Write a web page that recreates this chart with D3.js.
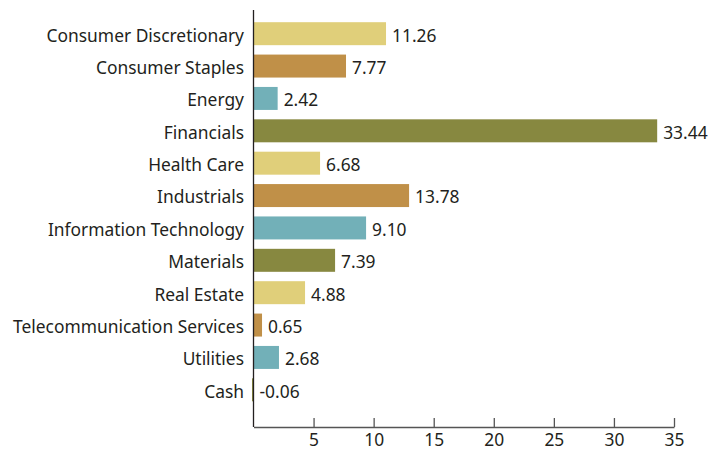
<!DOCTYPE html>
<html>
<head>
<meta charset="utf-8">
<script src="https://cdn.jsdelivr.net/npm/d3@7"></script>
<style>
  body { margin: 0; background: #fff; }
  text { font-family: "Noto Sans", sans-serif; fill: #231f20; }
</style>
</head>
<body>
<div id="chart"></div>
<script>
// sector weights (%), as printed on the bars
var sectors = ["Consumer Discretionary", "Consumer Staples", "Energy", "Financials",
  "Health Care", "Industrials", "Information Technology", "Materials",
  "Real Estate", "Telecommunication Services", "Utilities", "Cash"];
var weights = [11.26, 7.77, 2.42, 33.44, 6.68, 13.78, 9.10, 7.39, 4.88, 0.65, 2.68, -0.06];
// bar lengths as drawn in the picture (they don't quite match the labels)
var barLengths = [11.03, 7.70, 2.01, 33.6, 5.54, 12.95, 9.37, 6.79, 4.29, 0.71, 2.12, -0.06];
var tickValues = [5, 10, 15, 20, 25, 30, 35];
var palette = ["#e0cf7a", "#c09048", "#72b0b8", "#878840"];

var data = sectors.map(function(s, i) {
  return {name: s, label: weights[i], value: barLengths[i]};
});

var width = 723, height = 451;
var margin = {top: 10, right: 49, bottom: 24, left: 253.5};
var w = width - margin.left - margin.right,
    h = height - margin.top - margin.bottom;

var svg = d3.select("#chart").append("svg")
  .attr("width", width)
  .attr("height", height)
  .append("g")
  .attr("transform", "translate(" + margin.left + "," + margin.top + ")");

var x = d3.scaleLinear().domain([0, 35]).range([0, w]);

var y = d3.scaleBand()
  .domain(sectors)
  .range([7.5, 396])
  .paddingInner(0.29)
  .paddingOuter(0.145);

// bars
svg.selectAll("rect.bar")
  .data(data)
  .enter().append("rect")
  .attr("class", "bar")
  .attr("x", function(d) { return d.value < 0 ? x(0) - 1.5 : x(0); })
  .attr("y", function(d) { return y(d.name); })
  .attr("width", function(d) { return Math.max(1.5, Math.abs(x(d.value) - x(0))); })
  .attr("height", y.bandwidth())
  .attr("fill", function(d, i) { return palette[i % 4]; });

// value labels
svg.selectAll("text.val")
  .data(data)
  .enter().append("text")
  .attr("class", "val")
  .attr("x", function(d) { return Math.max(x(d.value), x(0)) + 6; })
  .attr("y", function(d) { return y(d.name) + y.bandwidth() / 2; })
  .attr("dy", "0.45em")
  .style("font-size", "17.4px")
  .text(function(d) { return d.label.toFixed(2); });

// category labels
svg.selectAll("text.cat")
  .data(data)
  .enter().append("text")
  .attr("class", "cat")
  .attr("x", -9.5)
  .attr("y", function(d) { return y(d.name) + y.bandwidth() / 2; })
  .attr("dy", "0.45em")
  .attr("text-anchor", "end")
  .style("font-size", "17.4px")
  .text(function(d) { return d.name; });

// left axis line
svg.append("line")
  .attr("x1", 0).attr("x2", 0)
  .attr("y1", 0).attr("y2", h)
  .attr("stroke", "#231f20")
  .attr("stroke-width", 1.3);

// bottom axis
var xAxis = d3.axisBottom(x)
  .tickValues(tickValues)
  .tickSizeInner(-9)
  .tickSizeOuter(0);

var gx = svg.append("g")
  .attr("transform", "translate(0," + h + ")")
  .call(xAxis);

gx.select(".domain").attr("stroke", "#555").attr("stroke-width", 1.3);
gx.selectAll(".tick line").attr("stroke", "#555").attr("stroke-width", 1.3);
gx.selectAll(".tick text")
  .attr("y", 19)
  .attr("dy", null)
  .attr("font-family", null)
  .style("font-size", "17.4px");
</script>
</body>
</html>
